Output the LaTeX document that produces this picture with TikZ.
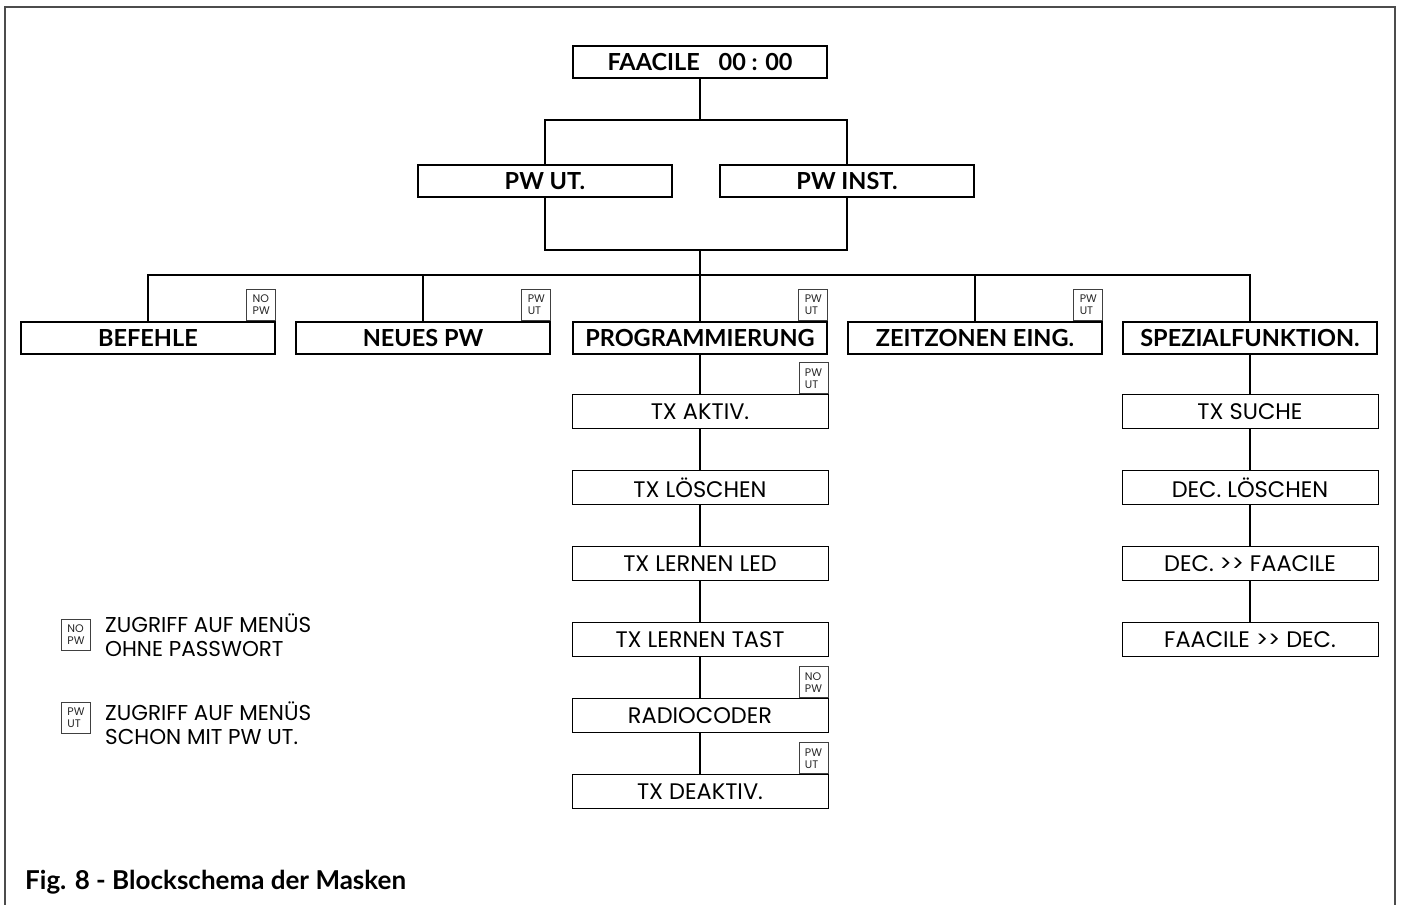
\documentclass[tikz,border=0pt]{standalone}
\usepackage{fontspec}
\setmainfont{Poppins}
\newfontfamily\labelfont{Lato}
\usetikzlibrary{positioning}

\begin{document}
\begin{tikzpicture}[x=1pt,y=-1pt,node distance=41pt,
                    mainbox/.style={draw,line width=2.6pt,minimum width=254pt,
                      minimum height=32pt,inner sep=0pt,
                      font=\labelfont\bfseries\fontsize{23.5}{26}\selectfont},
                    subbox/.style={draw,line width=1pt,minimum width=256pt,
                      minimum height=34pt,inner sep=0pt,
                      font=\fontsize{22.5}{26}\selectfont},
                    badge/.style={draw,black!75,line width=1pt,text=black!85,
                      minimum width=29pt,minimum height=31pt,inner sep=1.5pt,
                      align=left,font=\fontsize{11}{12}\selectfont},
                    wire/.style={line width=1.2pt}]

  \useasboundingbox (0,0) rectangle (1401,905);
  \draw[black!70,line width=2pt] (5,905) -- (5,7) -- (1395,7) -- (1395,905);

  % top of the tree
  \node[mainbox] (faacile) at (700,62) {FAACILE\hspace{0.8em}00 : 00};
  \node[mainbox] (pwut)    at (545,181) {PW UT.};
  \node[mainbox] (pwinst)  at (847,181) {PW INST.};

  % menus
  \node[mainbox] (befehle) at (148,338)  {BEFEHLE};
  \node[mainbox] (neuespw) at (423,338)  {NEUES PW};
  \node[mainbox] (prog)    at (700,338)  {PROGRAMMIERUNG};
  \node[mainbox] (zeit)    at (975,338)  {ZEITZONEN EING.};
  \node[mainbox] (spez)    at (1250,338) {SPEZIALFUNKTION.};

  % programmierung column
  \node[subbox] (txaktiv)  [below=39pt of prog]    {TX AKTIV.};
  \node[subbox] (txloesch) [below=of txaktiv]      {TX LÖSCHEN};
  \node[subbox] (txled)    [below=of txloesch]     {TX LERNEN LED};
  \node[subbox] (txtast)   [below=of txled]        {TX LERNEN TAST};
  \node[subbox] (radio)    [below=of txtast]       {RADIOCODER};
  \node[subbox] (txdeakt)  [below=of radio]        {TX DEAKTIV.};

  % spezialfunktion column
  \node[subbox] (txsuche)  [below=39pt of spez]    {TX SUCHE};
  \node[subbox] (decloesch)[below=of txsuche]      {DEC. LÖSCHEN};
  \node[subbox] (decfaac)  [below=of decloesch]    {DEC. >{}> FAACILE};
  \node[subbox] (faacdec)  [below=of decfaac]      {FAACILE >{}> DEC.};

  % access badges
  \node[badge,anchor=south east] (bbef)  at (befehle.north east) {NO\\PW};
  \node[badge,anchor=south east] (bneu)  at (neuespw.north east) {PW\\UT};
  \node[badge,anchor=south east] (bprog) at (prog.north east)    {PW\\UT};
  \node[badge,anchor=south east] (bzeit) at (zeit.north east)    {PW\\UT};
  \node[badge,anchor=south east] (bakt)  at (txaktiv.north east) {PW\\UT};
  \node[badge,anchor=south east] (brad)  at (radio.north east)   {NO\\PW};
  \node[badge,anchor=south east] (bdeak) at (txdeakt.north east) {PW\\UT};

  % branch points
  \coordinate (split) at (700,120);
  \coordinate (join)  at (700,250);
  \coordinate (bus)   at (700,275);

  \draw[wire] (faacile) -- (split);
  \draw[wire] (split) -| (pwut);
  \draw[wire] (split) -| (pwinst);
  \draw[wire] (pwut) |- (join) -| (pwinst);
  \draw[wire] (join) -- (bus);
  \foreach \m in {befehle,neuespw,prog,zeit,spez}
    \draw[wire] (bus) -| (\m);

  \path[wire] (prog)     edge (txaktiv)
              (txaktiv)  edge (txloesch)
              (txloesch) edge (txled)
              (txled)    edge (txtast)
              (txtast)   edge (radio)
              (radio)    edge (txdeakt);
  \path[wire] (spez)      edge (txsuche)
              (txsuche)   edge (decloesch)
              (decloesch) edge (decfaac)
              (decfaac)   edge (faacdec);

  % legend
  \node[badge] (lnopw) at (76,635) {NO\\PW};
  \node[anchor=west,align=left,font=\fontsize{21.5}{24}\selectfont,inner sep=0pt]
    (lnotext) at (105,635) {ZUGRIFF AUF MENÜS\\OHNE PASSWORT};
  \node[badge] (lpwut) at (76,718) {PW\\UT};
  \node[anchor=west,align=left,font=\fontsize{21.5}{24}\selectfont,inner sep=0pt]
    (lpwtext) at (105,723) {ZUGRIFF AUF MENÜS\\SCHON MIT PW UT.};

  \node[anchor=base west,inner sep=0pt,
        font=\labelfont\bfseries\fontsize{26}{28}\selectfont]
    (caption) at (25,889) {Fig. 8 - Blockschema der Masken};
\end{tikzpicture}
\end{document}
